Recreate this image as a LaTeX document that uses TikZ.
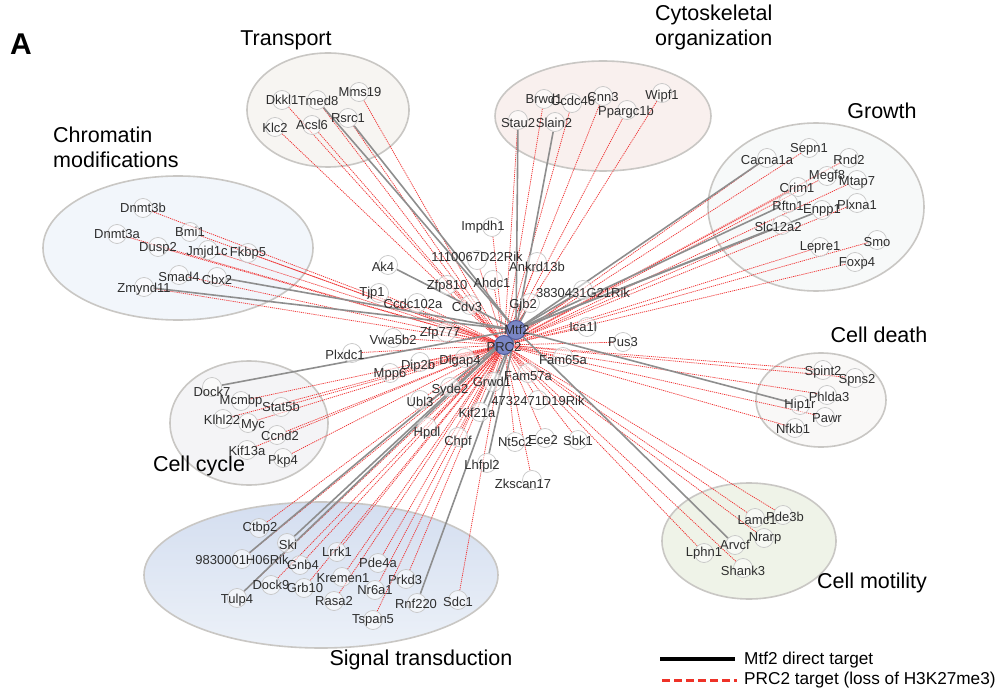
\documentclass[tikz,border=0pt]{standalone}
\usepackage{fontspec}
\setmainfont{Liberation Sans}
\usetikzlibrary{backgrounds}
\pgfdeclarelayer{bg}
\pgfdeclarelayer{edges}
\pgfdeclarelayer{top}
\pgfsetlayers{bg,edges,main,top}
\definecolor{redl}{HTML}{F03535}
\definecolor{grayl}{HTML}{8E8E8E}
\definecolor{ellline}{HTML}{C9C7C4}
\definecolor{blueN}{HTML}{7985C4}
\definecolor{blueD}{HTML}{4D5B9C}
\tikzset{
  gnode/.style={circle, draw=black!22, fill=white, fill opacity=0.55, minimum size=19pt, inner sep=0pt, line width=0.7pt},
  glab/.style={font=\fontsize{13}{13}\selectfont, text=black!82, inner sep=0pt},
  cnode/.style={circle, draw=blueD, fill=blueN, minimum size=19pt, inner sep=0pt, line width=0.9pt},
  redge/.style={draw=redl, line width=0.75pt, dash pattern=on 1.2pt off 0.9pt},
  gedge/.style={draw=grayl, line width=1.6pt},
  ellbox/.style={draw=ellline, line width=1.6pt},
  ttl/.style={font=\fontsize{21.5}{25}\selectfont, text=black, inner sep=0pt},
  legt/.style={font=\fontsize{17.2}{17.2}\selectfont, text=black, inner sep=0pt, anchor=west}
}
\newcommand\gn[6]{\node[gnode] (#1) at (#2,#3) {};
  \begin{pgfonlayer}{top}\node[glab] (#1l) at (#2+#4,#3+#5) {#6};\end{pgfonlayer}}
\begin{document}
\begin{tikzpicture}[x=1pt,y=-1pt]
\useasboundingbox (0,0) rectangle (1003,692);
% group ellipses
\begin{pgfonlayer}{bg}
\fill[white] (0,0) rectangle (1003,692);
\draw[ellbox, fill={rgb,255:red,247;green,245;blue,242}] (328,110) ellipse [x radius=81pt, y radius=57pt];
\draw[ellbox, fill={rgb,255:red,249;green,240;blue,238}] (603,116) ellipse [x radius=108pt, y radius=55pt];
\draw[ellbox, fill={rgb,255:red,247;green,249;blue,249}] (816,207) ellipse [x radius=108pt, y radius=84pt];
\draw[ellbox, fill={rgb,255:red,242;green,246;blue,251}] (178,248) ellipse [x radius=135pt, y radius=72pt];
\draw[ellbox, fill={rgb,255:red,244;green,244;blue,246}] (249,423) ellipse [x radius=79pt, y radius=62pt];
\draw[ellbox, fill={rgb,255:red,249;green,248;blue,247}] (821,400) ellipse [x radius=65pt, y radius=47pt];
\draw[ellbox, fill={rgb,255:red,239;green,243;blue,232}] (749,541) ellipse [x radius=87pt, y radius=58pt];
\draw[ellbox, top color={rgb,255:red,212;green,222;blue,240}, bottom color={rgb,255:red,236;green,241;blue,248}] (321,575) ellipse [x radius=177pt, y radius=73pt];
\end{pgfonlayer}
% titles
\node[font=\fontsize{30}{30}\selectfont\bfseries, inner sep=0pt] (lblA) at (21,44) {A};
\node[ttl] (tTransport) at (286,40) {Transport};
\node[ttl, anchor=north west, align=left] (tCyto) at (655,5) {Cytoskeletal\\organization};
\node[ttl] (tGrowth) at (882,111) {Growth};
\node[ttl, anchor=north west, align=left] (tChrom) at (53,127) {Chromatin\\modifications};
\node[ttl] (tDeath) at (879,335) {Cell death};
\node[ttl] (tCycle) at (199,466) {Cell cycle};
\node[ttl] (tMot) at (872,583) {Cell motility};
\node[ttl] (tSig) at (421,660) {Signal transduction};
% centre
\node[cnode] (mtf) at (516,330) {};
\node[cnode] (prc) at (504,345) {};
\begin{pgfonlayer}{top}
\node[glab] (mtfl) at (517,330) {Mtf2};
\node[glab] (prcl) at (504,347) {PRC2};
\end{pgfonlayer}
% Transport
\gn{dkkl1}{282}{100}{0}{0}{Dkkl1}
\gn{tmed8}{317}{100}{1}{1}{Tmed8}
\gn{mms19}{359}{92}{1}{0}{Mms19}
\gn{klc2}{275}{127}{0}{1}{Klc2}
\gn{acsl6}{312}{125}{0}{0}{Acsl6}
\gn{rsrc1}{348}{118}{0}{0}{Rsrc1}
% Cytoskeletal
\gn{brwd1}{544}{99}{0}{0}{Brwd1}
\gn{ccdc46}{572}{103}{1}{-2}{Ccdc46}
\gn{cnn3}{603}{96}{0}{1}{Cnn3}
\gn{ppargc}{627}{110}{-1}{2}{Ppargc1b}
\gn{wipf1}{662}{93}{0}{3}{Wipf1}
\gn{stau2}{518}{120}{0}{3}{Stau2}
\gn{slain2}{555}{122}{-1}{1}{Slain2}
% Growth
\gn{sepn1}{809}{148}{0}{1}{Sepn1}
\gn{cacna}{767}{158}{0}{2}{Cacna1a}
\gn{rnd2}{849}{158}{0}{2}{Rnd2}
\gn{megf8}{827}{176}{0}{0}{Megf8}
\gn{mtap7}{857}{180}{0}{2}{Mtap7}
\gn{crim1}{798}{187}{-1}{1}{Crim1}
\gn{rftn1}{788}{203}{0}{3}{Rftn1}
\gn{enpp1}{822}{210}{0}{0}{Enpp1}
\gn{plxna1}{857}{203}{0}{2}{Plxna1}
\gn{slc12a2}{782}{225}{-4}{2}{Slc12a2}
\gn{lepre1}{820}{247}{0}{0}{Lepre1}
\gn{smo}{877}{240}{0}{2}{Smo}
\gn{foxp4}{855}{262}{2}{1}{Foxp4}
% Chromatin
\gn{dnmt3b}{143}{208}{0}{0}{Dnmt3b}
\gn{bmi1}{190}{232}{0}{0}{Bmi1}
\gn{dnmt3a}{117}{234}{0}{0}{Dnmt3a}
\gn{dusp2}{158}{247}{0}{1}{Dusp2}
\gn{jmjd1c}{208}{250}{-1}{2}{Jmjd1c}
\gn{fkbp5}{248}{253}{0}{0}{Fkbp5}
\gn{smad4}{179}{275}{0}{2}{Smad4}
\gn{cbx2}{217}{277}{0}{3}{Cbx2}
\gn{zmynd11}{144}{287}{0}{2}{Zmynd11}
% Cell cycle
\gn{dock7}{212}{387}{0}{5}{Dock7}
\gn{mcmbp}{241}{401}{0}{0}{Mcmbp}
\gn{stat5b}{281}{407}{0}{0}{Stat5b}
\gn{klhl22}{223}{419}{-1}{1}{Klhl22}
\gn{myc}{248}{423}{5}{2}{Myc}
\gn{ccnd2}{277}{435}{3}{1}{Ccnd2}
\gn{kif13a}{247}{450}{0}{1}{Kif13a}
\gn{pkp4}{283}{458}{0}{3}{Pkp4}
% Cell death
\gn{spint2}{823}{370}{0}{2}{Spint2}
\gn{spns2}{855}{378}{2}{2}{Spns2}
\gn{phlda3}{827}{395}{2}{2}{Phlda3}
\gn{hip1r}{800}{405}{0}{0}{Hip1r}
\gn{pawr}{825}{417}{2}{1}{Pawr}
\gn{nfkb1}{795}{428}{-2}{1}{Nfkb1}
% Cell motility
\gn{lamc1}{755}{518}{2}{2}{Lamc1}
\gn{pde3b}{783}{515}{2}{2}{Pde3b}
\gn{nrarp}{764}{538}{1}{0}{Nrarp}
\gn{arvcf}{735}{545}{0}{0}{Arvcf}
\gn{lphn1}{704}{553}{0}{0}{Lphn1}
\gn{shank3}{743}{568}{0}{3}{Shank3}
% Signal transduction
\gn{ctbp2}{259}{528}{1}{0}{Ctbp2}
\gn{ski}{287}{543}{1}{2}{Ski}
\gn{r9830}{242}{559}{0}{1}{9830001H06Rik}
\gn{lrrk1}{337}{552}{0}{0}{Lrrk1}
\gn{gnb4}{300}{565}{3}{0}{Gnb4}
\gn{pde4a}{378}{563}{0}{0}{Pde4a}
\gn{kremen1}{342}{577}{1}{1}{Kremen1}
\gn{prkd3}{406}{579}{-1}{1}{Prkd3}
\gn{dock9}{271}{585}{0}{0}{Dock9}
\gn{grb10}{304}{588}{1}{0}{Grb10}
\gn{nr6a1}{375}{590}{0}{0}{Nr6a1}
\gn{tulp4}{237}{598}{0}{2}{Tulp4}
\gn{rasa2}{334}{601}{0}{0}{Rasa2}
\gn{rnf220}{417}{603}{-1}{1}{Rnf220}
\gn{sdc1}{458}{600}{0}{2}{Sdc1}
\gn{tspan5}{373}{620}{0}{0}{Tspan5}
% centre satellites
\gn{impdh1}{492}{227}{-9}{0}{Impdh1}
\gn{r1110}{477}{260}{0}{-3}{1110067D22Rik}
\gn{ankrd13b}{537}{262}{0}{5}{Ankrd13b}
\gn{ak4}{388}{265}{-5}{2}{Ak4}
\gn{zfp810}{447}{285}{0}{1}{Zfp810}
\gn{ahdc1}{493}{280}{-1}{3}{Ahdc1}
\gn{tjp1}{379}{293}{-7}{0}{Tjp1}
\gn{r3830}{583}{290}{0}{3}{3830431G21Rik}
\gn{ccdc102a}{417}{303}{-4}{1}{Ccdc102a}
\gn{cdv3}{470}{305}{-3}{2}{Cdv3}
\gn{gjb2}{530}{303}{-7}{2}{Gjb2}
\gn{ica1l}{587}{327}{-4}{0}{Ica1l}
\gn{zfp777}{446}{332}{-6}{1}{Zfp777}
\gn{vwa5b2}{393}{338}{0}{2}{Vwa5b2}
\gn{pus3}{623}{342}{0}{0}{Pus3}
\gn{plxdc1}{352}{353}{-7}{2}{Plxdc1}
\gn{dip2b}{420}{362}{-2}{4}{Dip2b}
\gn{dlgap4}{465}{358}{-5}{3}{Dlgap4}
\gn{fam65a}{563}{357}{0}{3}{Fam65a}
\gn{mpp6}{390}{373}{0}{1}{Mpp6}
\gn{syde2}{450}{387}{0}{3}{Syde2}
\gn{ubl3}{420}{400}{0}{2}{Ubl3}
\gn{hpdl}{427}{427}{0}{6}{Hpdl}
\gn{chpf}{458}{437}{0}{5}{Chpf}
\gn{fam57a}{528}{373}{0}{3}{Fam57a}
\gn{grwd1}{493}{382}{-1}{0}{Grwd1}
\gn{r4732}{538}{400}{0}{1}{4732471D19Rik}
\gn{kif21a}{480}{412}{-3}{1}{Kif21a}
\gn{nt5c2}{515}{442}{0}{0}{Nt5c2}
\gn{ece2}{545}{438}{-2}{2}{Ece2}
\gn{sbk1}{578}{440}{0}{1}{Sbk1}
\gn{lhfpl2}{487}{463}{-5}{3}{Lhfpl2}
\gn{zkscan17}{532}{480}{-9}{4}{Zkscan17}
% edges
\begin{pgfonlayer}{edges}
\foreach \n in {dkkl1,tmed8,mms19,klc2,acsl6,rsrc1,brwd1,ccdc46,cnn3,ppargc,wipf1,stau2,
  sepn1,cacna,rnd2,megf8,mtap7,crim1,plxna1,slc12a2,lepre1,smo,foxp4,
  dnmt3b,bmi1,dnmt3a,dusp2,jmjd1c,fkbp5,smad4,zmynd11,
  mcmbp,stat5b,klhl22,myc,ccnd2,kif13a,pkp4,
  spint2,spns2,phlda3,pawr,nfkb1,
  lamc1,pde3b,nrarp,lphn1,shank3,
  ctbp2,r9830,lrrk1,gnb4,pde4a,kremen1,prkd3,dock9,grb10,nr6a1,tulp4,rasa2,sdc1,tspan5,
  impdh1,r1110,ankrd13b,zfp810,ahdc1,tjp1,r3830,ccdc102a,cdv3,gjb2,ica1l,zfp777,vwa5b2,pus3,
  plxdc1,dip2b,dlgap4,fam65a,mpp6,syde2,ubl3,hpdl,chpf,fam57a,grwd1,r4732,nt5c2,ece2,sbk1,zkscan17}
  \draw[redge] (\n) -- (prc);
\foreach \n in {tmed8,rsrc1,stau2,slain2,cacna,enpp1,slc12a2,rftn1,zmynd11,cbx2,ak4,dock7,
  hip1r,arvcf,ski,r9830,tulp4,rnf220,kif21a,lhfpl2,r3830,gjb2}
  \draw[gedge] (\n) -- (mtf);
\end{pgfonlayer}
% legend
\coordinate (l1a) at (660,659);
\coordinate (l1b) at (735,659);
\coordinate (l2a) at (662,680);
\coordinate (l2b) at (737,680);
\draw[line width=4pt, black] (l1a) -- (l1b);
\draw[line width=3pt, draw={rgb,255:red,238;green,50;blue,40}, dash pattern=on 8pt off 4pt] (l2a) -- (l2b);
\node[legt] (leg1) at (744,660) {Mtf2 direct target};
\node[legt] (leg2) at (744,680) {PRC2 target (loss of H3K27me3)};
\end{tikzpicture}
\end{document}
